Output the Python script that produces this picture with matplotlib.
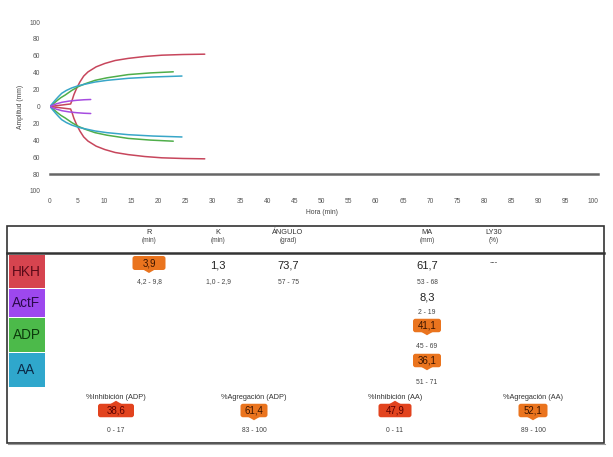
import matplotlib
matplotlib.use("Agg")
import matplotlib.pyplot as plt
from matplotlib.patches import FancyBboxPatch, Polygon, Rectangle

plt.rcParams['font.family'] = ['Liberation Sans', 'DejaVu Sans']

# ---------------- data ----------------
time_hkh = [0, 1, 2, 3, 3.8, 4.1, 4.4, 4.9, 5.5, 6.2, 7.0, 8.5, 10.1, 12.0, 14.4, 17.5, 20.6, 24.5, 28.5]
amp_hkh = [0, 0.8, 1.6, 2.4, 3.0, 8, 14, 21.5, 29, 36, 41, 47, 51, 54.5, 57, 59.3, 60.8, 61.6, 62.0]

time_actf = [0, 0.5, 1.2, 2.2, 3.5, 5.0, 6.3, 7.5]
amp_actf = [0, 1.5, 3.2, 5.0, 6.4, 7.4, 8.0, 8.3]

time_adp = [0, 0.6, 1.3, 2.0, 2.8, 4.0, 5.2, 6.5, 8.3, 10.5, 14.4, 18.5, 22.7]
amp_adp = [0, 3, 7, 10.5, 13.6, 19, 23.5, 27, 31, 34, 37.8, 39.8, 41.1]

time_aa = [0, 0.5, 1.1, 1.6, 2.15, 3.0, 4.0, 5.2, 6.5, 8.3, 10.5, 14.4, 19.0, 24.3]
amp_aa = [0, 4, 8.5, 12, 15.6, 19, 22, 24.6, 26.5, 29, 31, 33.4, 35, 36.1]

y_ticks = [-100, -80, -60, -40, -20, 0, 20, 40, 60, 80, 100]
x_ticks = list(range(0, 101, 5))
ref_line_level = -80

row_names = ['HKH', 'ActF', 'ADP', 'AA']
header_names = ['R', 'K', 'ÁNGULO', 'MA', 'LY30']
header_units = ['(min)', '(min)', '(grad)', '(mm)', '(%)']

hkh_values = ['3,9', '1,3', '73,7', '61,7', '---']
hkh_ranges = ['4,2 - 9,8', '1,0 - 2,9', '57 - 75', '53 - 68', '']
hkh_flags = ['low', None, None, None, None]

actf_ma_value = '8,3'
actf_ma_range = '2 - 19'
adp_ma_value = '41,1'
adp_ma_range = '45 - 69'
aa_ma_value = '36,1'
aa_ma_range = '51 - 71'

summary_names = ['%Inhibición (ADP)', '%Agregación (ADP)', '%Inhibición (AA)', '%Agregación (AA)']
summary_values = ['38,6', '61,4', '47,9', '52,1']
summary_ranges = ['0 - 17', '83 - 100', '0 - 11', '89 - 100']
summary_flags = ['high', 'low', 'high', 'low']

# ---------------- styles ----------------
c_hkh = '#c7465c'
c_actf = '#a64ce0'
c_adp = '#4fae4a'
c_aa = '#38a6c8'
box_colors = ['#d6444f', '#9d48ee', '#4cba4a', '#2fa7cc']
box_text = ['#5a0a18', '#2a0a4a', '#0c3a0c', '#0a2a48']
orange = '#ea741e'
red = '#e2431e'

W, H = 613, 457
fig = plt.figure(figsize=(W / 100, H / 100), dpi=100)

# chart axes: x 0..100 -> px 50..593 ; y -100..100 -> px 190.9..22.1
ax = fig.add_axes([50 / W, 1 - 190.9 / H, 543 / W, 168.8 / H])
ax.set_xlim(0, 100)
ax.set_ylim(-100, 100)
for sp in ax.spines.values():
    sp.set_visible(False)

for t, a, c in [(time_hkh, amp_hkh, c_hkh), (time_adp, amp_adp, c_adp),
                (time_aa, amp_aa, c_aa), (time_actf, amp_actf, c_actf)]:
    ax.plot(t, a, color=c, lw=1.1, solid_capstyle='round')
    ax.plot(t, [-v for v in a], color=c, lw=1.1, solid_capstyle='round')

ax.plot([0, 101], [ref_line_level, ref_line_level], color='#666666', lw=1.8, clip_on=False)

ax.set_yticks(y_ticks)
ax.set_yticklabels([str(abs(v)) for v in y_ticks])
ax.set_xticks(x_ticks)
ax.set_xticklabels([str(v) for v in x_ticks])
ax.tick_params(axis='both', length=0, labelsize=4.8, labelcolor='#555555')
ax.tick_params(axis='y', pad=7)
ax.tick_params(axis='x', pad=5)
ax.set_xlabel('Hora (min)', fontsize=4.9, color='#444444', labelpad=3)
ax.set_ylabel('Amplitud (mm)', fontsize=4.9, color='#444444', labelpad=4)

# ---------------- table overlay (pixel coordinates) ----------------
ov = fig.add_axes([0, 0, 1, 1])
ov.set_xlim(0, W)
ov.set_ylim(H, 0)
ov.axis('off')
ov.patch.set_visible(False)

ov.add_patch(Rectangle((7, 226), 597, 217, fill=False, ec='#333333', lw=1.2))
ov.plot([7, 604], [253, 253], color='#333333', lw=1.8)
ov.plot([8, 605], [444, 444], color='#999999', lw=0.8)

box_y = [(254.5, 288), (288.8, 317), (317.8, 352), (352.8, 387)]
for (y0, y1), name, bc, tc in zip(box_y, row_names, box_colors, box_text):
    ov.add_patch(Rectangle((8.5, y0), 36, y1 - y0, fc=bc, ec='none'))
    ov.text(26.5, (y0 + y1) / 2 + 0.5, name, ha='center', va='center', fontsize=9.8, color=tc)

col_x = [149, 218, 288, 427, 494]
for x, n, u in zip(col_x, header_names, header_units):
    ov.text(x, 233, n, ha='center', va='center', fontsize=5.3, color='#333333')
    ov.text(x, 240.5, u, ha='center', va='center', fontsize=4.7, color='#444444')


def badge(x, y, w, h, text, color, direction):
    ov.add_patch(FancyBboxPatch((x - w / 2 + 2.5, y - h / 2 + 2.5), w - 5, h - 5,
                                boxstyle='round,pad=2.5', fc=color, ec='none'))
    if direction == 'down':
        ov.add_patch(Polygon([(x - 6, y + h / 2 - 0.5), (x + 6, y + h / 2 - 0.5), (x, y + h / 2 + 3)],
                             closed=True, fc=color, ec='none'))
    else:
        ov.add_patch(Polygon([(x - 6, y - h / 2 + 0.5), (x + 6, y - h / 2 + 0.5), (x, y - h / 2 - 3)],
                             closed=True, fc=color, ec='none'))
    tcol = '#3a1400' if color == orange else '#5a0000'
    ov.text(x, y + 0.3, text, ha='center', va='center', fontsize=7.0, color=tcol)


# HKH row
for x, v, r, f in zip(col_x, hkh_values, hkh_ranges, hkh_flags):
    if f == 'low':
        badge(x, 263, 33, 14, v, orange, 'down')
    elif v == '---':
        ov.text(x, 263, v, ha='center', va='center', fontsize=6, color='#333333')
    else:
        ov.text(x, 265.5, v, ha='center', va='center', fontsize=8, color='#222222')
    if r:
        ov.text(x, 282, r, ha='center', va='center', fontsize=4.9, color='#444444')

# ActF / ADP / AA MA values
ma_x = col_x[3]
ov.text(ma_x, 298, actf_ma_value, ha='center', va='center', fontsize=8, color='#222222')
ov.text(ma_x, 312, actf_ma_range, ha='center', va='center', fontsize=4.9, color='#444444')
badge(ma_x, 325.5, 28, 13.5, adp_ma_value, orange, 'down')
ov.text(ma_x, 346.5, adp_ma_range, ha='center', va='center', fontsize=4.9, color='#444444')
badge(ma_x, 360.5, 28, 13.5, aa_ma_value, orange, 'down')
ov.text(ma_x, 382.5, aa_ma_range, ha='center', va='center', fontsize=4.9, color='#444444')

# summary row
sum_x = [116, 254, 395, 533]
badge_w = [36, 27, 33, 29]
for x, n, v, r, f, bw in zip(sum_x, summary_names, summary_values, summary_ranges, summary_flags, badge_w):
    ov.text(x, 397.5, n, ha='center', va='center', fontsize=5.3, color='#333333')
    color = red if f == 'high' else orange
    badge(x, 410.5, bw, 13.5, v, color, 'up' if f == 'high' else 'down')
    ov.text(x, 430.5, r, ha='center', va='center', fontsize=4.9, color='#444444')

fig.savefig('out.png', dpi=100)
